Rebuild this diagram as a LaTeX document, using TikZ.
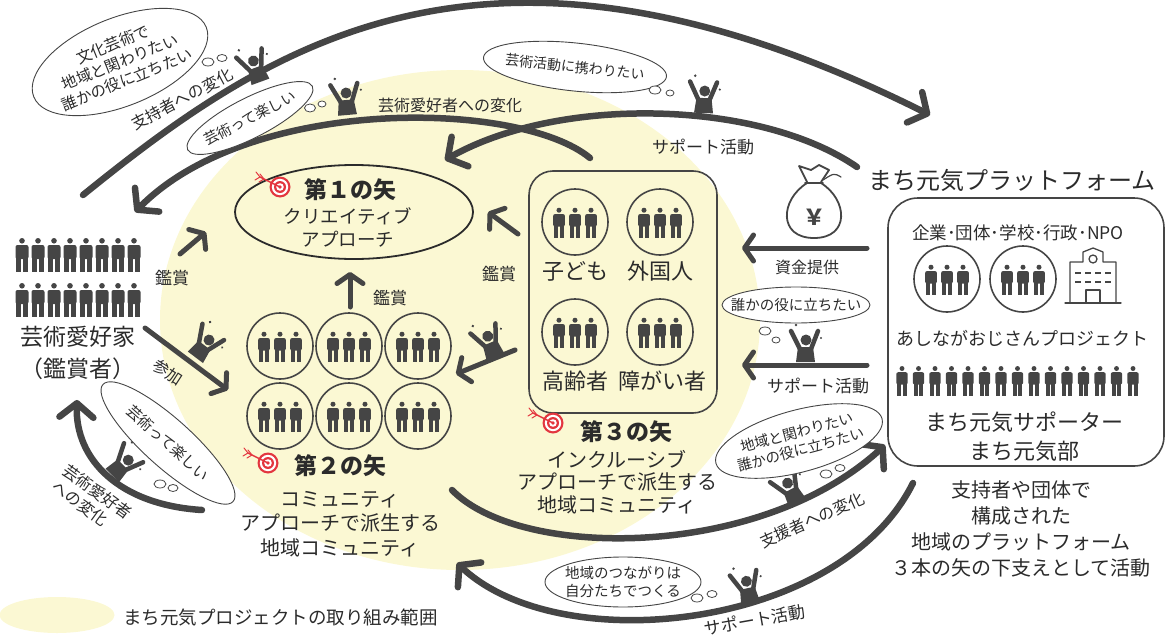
\documentclass[tikz,border=0pt]{standalone}
\usepackage{fontspec}
\setmainfont{Noto Sans CJK JP}
\usetikzlibrary{arrows.meta,shapes.geometric}

\definecolor{ink}{HTML}{454545}
\definecolor{txt}{HTML}{2B2B2B}
\definecolor{areayel}{HTML}{FBF8D3}
\definecolor{tgtred}{HTML}{E3363F}

\newcommand{\fsz}[2]{\fontsize{#1}{#2}\selectfont}

\tikzset{
  flow/.style={draw=ink,line width=6.5pt,line cap=round,
    -{Straight Barb[length=14pt,width=34pt,round]}},
  shortflow/.style={draw=ink,line width=5pt,line cap=round,
    -{Straight Barb[length=9pt,width=26pt,round]}},
  lbl/.style={text=txt,inner sep=0pt,font=\fsz{16}{20}},
  body/.style={text=txt,inner sep=0pt,align=center,font=\fsz{20}{24.5}},
  title/.style={text=txt,inner sep=0pt,font=\fsz{23}{26}\bfseries},
  thought/.style={draw=ink,line width=0.9pt,fill=white,ellipse,inner sep=0pt},
  thinktxt/.style={text=txt,inner sep=0pt,align=center,font=\fsz{14.5}{18}},
  puff/.style={draw=ink,line width=0.8pt,fill=white},
  person/.pic={
    \fill[ink] (0,-14.2) circle (2.8);
    \fill[ink,rounded corners=2pt] (-6.5,-10) rectangle (6.5,4);
    \fill[ink] (-5.6,2) rectangle (-0.6,17);
    \fill[ink] (0.6,2) rectangle (5.6,17);
  },
  trio/.pic={
    \draw[ink,line width=1.6pt] (0,0) circle (33);
    \foreach \dx in {-16,0,16} \pic[scale=0.9] at (\dx,1) {person};
  },
  cheer/.pic={
    \fill[ink] (-9,0) -- (-7,-15) -- (8,-15) -- (10,0) -- cycle;
    \draw[ink,line width=4.5pt,line cap=round] (-5,-13) -- (-14,-31);
    \draw[ink,line width=4.5pt,line cap=round] (6,-13) -- (13,-31);
    \fill[ink] (1,-22) circle (5.5);
    \fill[ink] (-9,-37) circle (1.4);
    \fill[ink] (16,-24) circle (1.2);
  },
  target/.pic={
    \fill[tgtred] (0,0) circle (10.5);
    \fill[white] (0,0) circle (8.2);
    \fill[tgtred] (0,0) circle (6);
    \fill[white] (0,0) circle (3.8);
    \fill[tgtred] (0,0) circle (1.8);
    \draw[tgtred,line width=1.4pt] (-20,-10) -- (0,0);
    \draw[tgtred,line width=1pt] (-20,-10) -- (-24,-15) (-16,-8) -- (-20,-13)
      (-20,-10) -- (-25,-7) (-16,-8) -- (-21,-5);
  }
}

\begin{document}
\begin{tikzpicture}[x=1pt,y=-1pt,line cap=round,line join=round]
  \useasboundingbox (0,0) rectangle (1168,637);

  % project area and its key
  \fill[areayel] (460,320) ellipse [x radius=300, y radius=250];
  \node[fill=areayel,ellipse,minimum width=115,minimum height=36,inner sep=0pt] (key) at (57,615) {};
  \node[lbl,anchor=west,font=\fsz{18.5}{22}] (keytxt) at (123,617) {まち元気プロジェクトの取り組み範囲};

  % art lovers
  \foreach \i in {0,...,7} {
    \pic at (22+16*\i,255) {person};
    \pic at (22+16*\i,300) {person};
  }
  \node[text=txt,font=\fsz{23}{28}] (fans) at (78,337) {芸術愛好家};
  \node[text=txt,font=\fsz{23}{28}] (fansb) at (78,369) {（鑑賞者）};

  % first arrow
  \node[draw=txt,line width=1.8pt,ellipse,minimum width=238,minimum height=94,inner sep=0pt] (arrow1) at (354,212) {};
  \pic at (280,187) {target};
  \node[title] (arrow1t) at (350,190) {第１の矢};
  \node[body,font=\fsz{18.5}{23}] (arrow1s) at (348,227) {クリエイティブ\\アプローチ};

  % second arrow
  \foreach \cx in {280,349,418} {
    \pic at (\cx,346) {trio};
    \pic at (\cx,416) {trio};
  }
  \pic at (268,463) {target};
  \node[title] (arrow2t) at (340,466) {第２の矢};
  \node[body] (arrow2s) at (340,524) {コミュニティ\\アプローチで派生する\\地域コミュニティ};

  % third arrow
  \node[draw=ink,line width=1.6pt,rounded corners=24pt,minimum width=188,minimum height=242] (grp3) at (623,292) {};
  \pic at (575,222) {trio};
  \pic at (660,222) {trio};
  \pic at (575,332) {trio};
  \pic at (660,332) {trio};
  \node[text=txt,font=\fsz{22}{26}] (kids) at (575,271) {子ども};
  \node[text=txt,font=\fsz{22}{26}] (foreign) at (660,271) {外国人};
  \node[text=txt,font=\fsz{22}{26}] (elder) at (575,381) {高齢者};
  \node[text=txt,font=\fsz{22}{26}] (disab) at (662,381) {障がい者};
  \pic at (553,423) {target};
  \node[title] (arrow3t) at (626,432) {第３の矢};
  \node[body,font=\fsz{20}{22.5}] (arrow3s) at (617,482) {インクルーシブ\\アプローチで派生する\\地域コミュニティ};

  % platform
  \node[text=txt,font=\fsz{24}{28}] (pftitle) at (1012,180) {まち元気プラットフォーム};
  \node[draw=ink,line width=1.6pt,rounded corners=30pt,minimum width=276,minimum height=268] (pf) at (1026,332) {};
  \node[text=txt,font=\fsz{17.5}{20}] (orgs) at (1018,233) {企業･団体･学校･行政･NPO};
  \pic at (947,279) {trio};
  \pic at (1023,279) {trio};
  \begin{scope}[shift={(1093,278)},ink,line width=1.3pt]
    \draw (-28,25) -- (28,25);
    \draw (-23,25) -- (-23,-16) -- (-10,-16) -- (-10,-26) -- (0,-30) -- (10,-26) -- (10,-16) -- (23,-16) -- (23,25);
    \draw (0,-19) circle (4);
    \foreach \wx in {-15,-5,5,15}
      \foreach \wy in {-5,4}
        \fill (\wx-3,\wy-1.2) rectangle (\wx+3,\wy+1.2);
    \draw (-7,25) -- (-7,12) -- (7,12) -- (7,25);
  \end{scope}
  \node[text=txt,font=\fsz{18}{22}] (ashinaga) at (1022,338) {あしながおじさんプロジェクト};
  \foreach \i in {0,...,14}
    \pic[scale=0.88] at (902+16.5*\i,381) {person};
  \node[body,font=\fsz{22}{29}] (supporters) at (1024,437) {まち元気サポーター\\まち元気部};
  \node[body,font=\fsz{20}{26}] (pfnote) at (1021,529) {支持者や団体で\\構成された\\地域のプラットフォーム\\３本の矢の下支えとして活動};

  % money bag
  \begin{scope}[shift={(814,210)},ink,line width=1.8pt]
    \draw (-7,-27) .. controls (-34,-10) and (-36,28) .. (0,28) .. controls (36,28) and (34,-10) .. (7,-27);
    \draw (-9,-27) -- (9,-27);
    \draw (-7,-28) -- (-15,-44) -- (-3,-40) -- (5,-45) -- (15,-40) -- (7,-28);
    \draw[line width=1.2pt] (9,-30) .. controls (20,-37) .. (27,-33);
    \node[text=ink,font=\fsz{22}{24}\bfseries] (yen) at (0,7) {￥};
  \end{scope}

  % arcs
  \coordinate (supS) at (83,195);
  \coordinate (supE) at (930,115);
  \draw[flow] (supS) .. controls (271,43) and (490,-105) .. (supE);
  \coordinate (fanS) at (590,158);
  \coordinate (fanE) at (135,212);
  \draw[flow] (fanS) .. controls (520,100) and (250,95) .. (fanE);
  \coordinate (actS) at (857,167);
  \coordinate (actE) at (445,160);
  \draw[flow] (actS) .. controls (760,100) and (560,95) .. (actE);
  \coordinate (helpS) at (452,490);
  \coordinate (helpE) at (885,445);
  \draw[flow] (helpS) .. controls (520,560) and (760,560) .. (helpE);
  \coordinate (botS) at (913,483);
  \coordinate (botE) at (457,563);
  \draw[flow] (botS) .. controls (840,630) and (560,660) .. (botE);
  \coordinate (leftS) at (202,510);
  \coordinate (leftE) at (77,400);
  \draw[flow] (leftS) .. controls (120,505) and (75,460) .. (leftE);

  % short arrows
  \coordinate (fundS) at (867,248);
  \coordinate (fundE) at (742,248);
  \draw[shortflow] (fundS) -- (fundE);
  \coordinate (aidS) at (867,365);
  \coordinate (aidE) at (742,365);
  \draw[shortflow] (aidS) -- (aidE);
  \coordinate (viewLS) at (180,254);
  \coordinate (viewLE) at (206,232);
  \draw[shortflow] (viewLS) -- (viewLE);
  \coordinate (joinS) at (145,328);
  \coordinate (joinE) at (228,390);
  \draw[shortflow] (joinS) -- (joinE);
  \coordinate (viewMS) at (350,307);
  \coordinate (viewME) at (350,272);
  \draw[shortflow] (viewMS) -- (viewME);
  \coordinate (viewRS) at (518,234);
  \coordinate (viewRE) at (488,212);
  \draw[shortflow] (viewRS) -- (viewRE);
  \coordinate (inclS) at (515,350);
  \coordinate (inclE) at (456,374);
  \draw[shortflow] (inclS) -- (inclE);

  % arrow labels
  \node[lbl,font=\fsz{17}{20}] (viewL) at (172,278) {鑑賞};
  \node[lbl,font=\fsz{17}{20}] (viewM) at (390,298) {鑑賞};
  \node[lbl,font=\fsz{17}{20}] (viewR) at (499,274) {鑑賞};
  \node[lbl,rotate=-33] (join) at (168,372) {参加};
  \node[lbl] (fund) at (807,267) {資金提供};
  \node[lbl,font=\fsz{17}{20}] (aid) at (818,386) {サポート活動};
  \node[lbl,font=\fsz{17}{20}] (actlbl) at (703,147) {サポート活動};
  \node[lbl] (fanlbl) at (450,105) {芸術愛好者への変化};
  \node[lbl,rotate=28] (suplbl) at (182,99) {支持者への変化};
  \node[lbl,rotate=24] (helplbl) at (812,520) {支援者への変化};
  \node[lbl,font=\fsz{17}{20},rotate=10] (botlbl) at (755,620) {サポート活動};
  \node[lbl,rotate=-36,align=left] (leftlbl) at (92,500) {芸術愛好者\\への変化};

  % cheering people
  \pic[rotate=20] at (260,82) {cheer};
  \pic[rotate=5] at (347,115) {cheer};
  \pic[rotate=-2] at (703,113) {cheer};
  \pic at (805,362) {cheer};
  \pic[rotate=22] at (495,357) {cheer};
  \pic[rotate=-37] at (195,357) {cheer};
  \pic[rotate=-45] at (112,475) {cheer};
  \pic[rotate=28] at (797,503) {cheer};
  \pic[rotate=12] at (750,603) {cheer};

  % thoughts
  \node[thought,minimum width=186,minimum height=88,rotate=22] (thA) at (120,62) {};
  \node[thinktxt,font=\fsz{15.5}{19},rotate=22] (thAt) at (thA.center) {文化芸術で\\地域と関わりたい\\誰かの役に立ちたい};
  \draw[puff] (208,62) ellipse [x radius=6, y radius=4];
  \draw[puff] (222,58) ellipse [x radius=5, y radius=3.5];

  \node[thought,minimum width=140,minimum height=40,rotate=27] (thB) at (250,118) {};
  \node[thinktxt,rotate=27] (thBt) at (thB.center) {芸術って楽しい};
  \draw[puff] (310,108) ellipse [x radius=5.5, y radius=4];
  \draw[puff] (322,104) ellipse [x radius=4, y radius=3];

  \node[thought,minimum width=184,minimum height=48,rotate=-6] (thC) at (575,67) {};
  \node[thinktxt,font=\fsz{14}{17},rotate=-6] (thCt) at (thC.center) {芸術活動に携わりたい};
  \draw[puff] (655,90) ellipse [x radius=6, y radius=4];
  \draw[puff] (670,93) ellipse [x radius=4, y radius=3];

  \node[thought,minimum width=148,minimum height=36] (thD) at (796,305) {};
  \node[thinktxt] (thDt) at (thD.center) {誰かの役に立ちたい};
  \draw[puff] (765,331) ellipse [x radius=6, y radius=4];
  \draw[puff] (776,340) ellipse [x radius=4, y radius=3];

  \node[thought,minimum width=172,minimum height=62,rotate=15] (thE) at (799,441) {};
  \node[thinktxt,rotate=15] (thEt) at (thE.center) {地域と関わりたい\\誰かの役に立ちたい};
  \draw[puff] (826,474) ellipse [x radius=6, y radius=4];
  \draw[puff] (840,468) ellipse [x radius=5, y radius=3.5];

  \node[thought,minimum width=156,minimum height=50] (thF) at (623,582) {};
  \node[thinktxt] (thFt) at (thF.center) {地域のつながりは\\自分たちでつくる};
  \draw[puff] (697,598) ellipse [x radius=6, y radius=4];
  \draw[puff] (712,594) ellipse [x radius=5, y radius=3.5];

  \node[thought,minimum width=175,minimum height=48,rotate=-42] (thG) at (168,443) {};
  \node[thinktxt,font=\fsz{15}{18},rotate=-42] (thGt) at (thG.center) {芸術って楽しい};
  \draw[puff] (160,484) ellipse [x radius=6, y radius=4];
  \draw[puff] (173,488) ellipse [x radius=5, y radius=3.5];
\end{tikzpicture}
\end{document}
